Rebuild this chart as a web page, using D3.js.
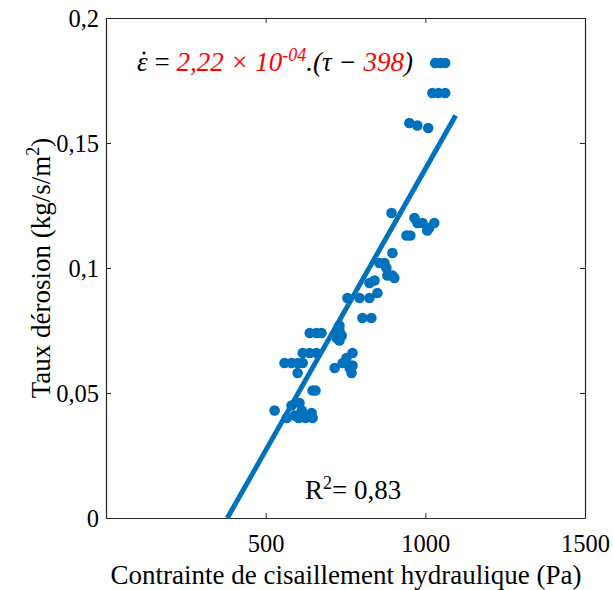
<!DOCTYPE html>
<html>
<head>
<meta charset="utf-8">
<script src="https://cdn.jsdelivr.net/npm/d3@7"></script>
<style>
 body { margin: 0; background: #fff; }
</style>
</head>
<body>
<div id="d3-container"></div>
<script>
/**
 * CONSTANTS AND DATA
 * */
const width = 613,
 height = 590,
 margin = { top: 18, bottom: 72, left: 106, right: 28 };

// shear stress (Pa) of each measurement
const tau = [
 1031, 1047, 1062, 1022, 1041, 1062, 950, 975, 1009, 894,
 966, 975, 991, 1012, 1028, 1006, 941, 953, 897, 872,
 856, 878, 881, 903, 897, 841, 825, 850, 825, 794,
 756, 803, 831, 731, 722, 731, 675, 638, 659, 772,
 753, 741, 772, 716, 763, 769, 616, 638, 659, 559,
 581, 600, 616, 600, 647, 656, 528, 581, 606, 613,
 616, 644, 647, 591, 566, 603, 625, 731, 738
];
// erosion rate (kg/s/m2)
const erosion = [
 0.182, 0.182, 0.182, 0.170, 0.170, 0.170, 0.158, 0.157, 0.156, 0.122,
 0.120, 0.118, 0.118, 0.116, 0.118, 0.115, 0.113, 0.113, 0.106, 0.102,
 0.102, 0.100, 0.097, 0.096, 0.097, 0.095, 0.094, 0.090, 0.088, 0.088,
 0.088, 0.080, 0.080, 0.075, 0.072, 0.071, 0.074, 0.074, 0.074, 0.066,
 0.064, 0.062, 0.061, 0.060, 0.060, 0.058, 0.066, 0.066, 0.066, 0.062,
 0.062, 0.062, 0.062, 0.058, 0.051, 0.051, 0.043, 0.045, 0.046, 0.043,
 0.041, 0.042, 0.040, 0.041, 0.040, 0.040, 0.040, 0.077, 0.073
];

// fitted line end points
const fitTau = [380, 1095];
const fitErosion = [0, 0.161];

const xTicks = [500, 1000, 1500];
const yTicks = [0, 0.05, 0.1, 0.15, 0.2];

const blue = "#0072BD";
const axisColor = "#262626";
const font = "Liberation Serif";
const frFormat = v => String(v).replace(".", ",");

/**
 * SCALES
 * */
const x = d3.scaleLinear([0, 1500], [margin.left, width - margin.right]);
const y = d3.scaleLinear([0, 0.2], [height - margin.bottom, margin.top]);

const svg = d3.select("#d3-container")
 .append("svg")
 .attr("width", width)
 .attr("height", height)
 .attr("font-family", font);

// axes: ticks inward, mirrored on all four sides
const tickLen = 5;

const gx = svg.append("g")
 .attr("transform", `translate(0,${y.range()[0]})`)
 .call(d3.axisBottom(x).tickValues(xTicks).tickSizeInner(-tickLen).tickSizeOuter(0).tickPadding(17).tickFormat(d => d));
const gxTop = svg.append("g")
 .attr("transform", `translate(0,${y.range()[1]})`)
 .call(d3.axisTop(x).tickValues(xTicks).tickSizeInner(-tickLen).tickSizeOuter(0).tickFormat(""));
const gy = svg.append("g")
 .attr("transform", `translate(${x.range()[0]},0)`)
 .call(d3.axisLeft(y).tickValues(yTicks).tickSizeInner(-tickLen).tickSizeOuter(0).tickPadding(7).tickFormat(frFormat));
const gyRight = svg.append("g")
 .attr("transform", `translate(${x.range()[1]},0)`)
 .call(d3.axisRight(y).tickValues(yTicks).tickSizeInner(-tickLen).tickSizeOuter(0).tickFormat(""));

[gx, gxTop, gy, gyRight].forEach(g => {
 g.attr("font-family", font).attr("font-size", 24.5);
 g.selectAll(".domain").attr("stroke", axisColor).attr("stroke-width", 1.2);
 g.selectAll(".tick line").attr("stroke", axisColor).attr("stroke-width", 1);
 g.selectAll(".tick text").attr("fill", "#000");
});
gy.selectAll(".tick text").attr("dy", "0.35em");

// dots
svg.append("g")
 .selectAll("circle")
 .data(tau.map((t, i) => ({ t, e: erosion[i] })))
 .join("circle")
 .attr("cx", d => x(d.t))
 .attr("cy", d => y(d.e))
 .attr("r", 5.3)
 .attr("fill", blue);

// fitted line
svg.append("line")
 .attr("x1", x(fitTau[0]))
 .attr("y1", y(fitErosion[0]))
 .attr("x2", x(fitTau[1]))
 .attr("y2", y(fitErosion[1]))
 .attr("stroke", blue)
 .attr("stroke-width", 5);

// axis labels
svg.append("text")
 .attr("x", 346)
 .attr("y", 584)
 .attr("text-anchor", "middle")
 .attr("font-size", 27)
 .text("Contrainte de cisaillement hydraulique (Pa)");

const yl = svg.append("text")
 .attr("transform", "translate(50,268) rotate(-90)")
 .attr("text-anchor", "middle")
 .attr("font-size", 27);
yl.append("tspan").text("Taux dérosion (kg/s/m");
yl.append("tspan").attr("font-size", 18).attr("dy", -11).text("2");
yl.append("tspan").attr("dy", 11).text(")");

// equation
const eq = svg.append("text")
 .attr("x", 137)
 .attr("y", 71)
 .attr("font-size", 27);
eq.append("tspan").attr("font-style", "italic").text("ε");
eq.append("tspan").text(" = ");
eq.append("tspan").attr("fill", "red").attr("font-style", "italic").text("2,22 × 10");
eq.append("tspan").attr("fill", "red").attr("font-style", "italic").attr("font-size", 18).attr("dy", -10).text("-04");
eq.append("tspan").attr("font-style", "italic").attr("dy", 10).text(".(τ − ");
eq.append("tspan").attr("fill", "red").attr("font-style", "italic").text("398");
eq.append("tspan").attr("font-style", "italic").text(")");
// dot over epsilon
svg.append("circle")
 .attr("cx", 144)
 .attr("cy", 53)
 .attr("r", 1.5)
 .attr("fill", "#000");

// R2
const r2 = svg.append("text")
 .attr("x", 305)
 .attr("y", 499)
 .attr("font-size", 27);
r2.append("tspan").text("R");
r2.append("tspan").attr("font-size", 18).attr("dy", -10).text("2");
r2.append("tspan").attr("dy", 10).text("= 0,83");
</script>
</body>
</html>
